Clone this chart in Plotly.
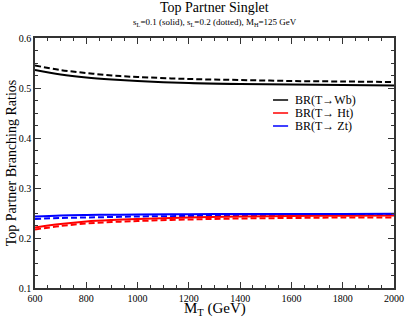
import plotly.graph_objects as go

# masses (GeV)
mt = [600, 700, 800, 900, 1000, 1200, 1400, 1600, 1800, 2000]

# sL = 0.1 (solid)
br_wb_01 = [0.536, 0.527, 0.521, 0.517, 0.514, 0.510, 0.508, 0.507, 0.506, 0.505]
br_ht_01 = [0.221, 0.228, 0.233, 0.236, 0.238, 0.241, 0.243, 0.244, 0.2445, 0.245]
br_zt_01 = [0.243, 0.245, 0.246, 0.2465, 0.247, 0.2475, 0.248, 0.248, 0.248, 0.2485]

# sL = 0.2 (dashed)
br_wb_02 = [0.545, 0.536, 0.530, 0.525, 0.522, 0.518, 0.516, 0.514, 0.513, 0.512]
br_ht_02 = [0.217, 0.224, 0.229, 0.232, 0.234, 0.237, 0.239, 0.240, 0.241, 0.241]
br_zt_02 = [0.238, 0.240, 0.241, 0.242, 0.243, 0.244, 0.245, 0.245, 0.246, 0.246]

labels = ["BR(T\u2192Wb)", "BR(T\u2192 Ht)", "BR(T\u2192 Zt)"]
colors = ["black", "#ff0000", "#0000ff"]

FONT = "Liberation Serif"

fig = go.Figure()

solid = [br_wb_01, br_ht_01, br_zt_01]
dashed = [br_wb_02, br_ht_02, br_zt_02]
for ys, col in zip(dashed, colors):
    fig.add_trace(go.Scatter(x=mt, y=ys, mode="lines", line=dict(color=col, width=2, dash="6px,3px", shape="spline"),
                             showlegend=False))
for ys, col in zip(solid, colors):
    fig.add_trace(go.Scatter(x=mt, y=ys, mode="lines", line=dict(color=col, width=2, shape="spline"),
                             showlegend=False))

# hand-made legend (short line samples like the original)
for i, (lab, col) in enumerate(zip(labels, colors)):
    yy = 0.752 - i * 0.052
    fig.add_shape(type="line", xref="paper", yref="paper", x0=0.663, x1=0.705, y0=yy, y1=yy,
                  line=dict(color=col, width=1.5))
    fig.add_annotation(x=0.72, y=yy, xref="paper", yref="paper", text=lab, showarrow=False,
                       xanchor="left", yanchor="middle", font=dict(family=FONT, size=12, color="black"))

# titles
fig.add_annotation(x=0.5, y=1.12, xref="paper", yref="paper", text="Top Partner Singlet", showarrow=False,
                   yanchor="middle", font=dict(family=FONT, size=14, color="black"))
fig.add_annotation(x=0.5, y=1.062, xref="paper", yref="paper",
                   text="s<sub>L</sub>=0.1 (solid), s<sub>L</sub>=0.2 (dotted), M<sub>H</sub>=125 GeV",
                   showarrow=False, yanchor="middle", font=dict(family=FONT, size=9, color="black"))

# axis titles placed by hand (closer to the ticks than plotly allows)
fig.add_annotation(x=0.5, y=-0.082, xref="paper", yref="paper", text="M<sub>T</sub> (GeV)", showarrow=False,
                   yanchor="middle", font=dict(family=FONT, size=15, color="black"))
fig.add_annotation(x=-0.066, y=0.5, xref="paper", yref="paper", text="Top Partner Branching Ratios",
                   showarrow=False, textangle=-90, xanchor="center", yanchor="middle",
                   font=dict(family=FONT, size=14, color="black"))

axis_common = dict(showline=True, linecolor="#333", linewidth=1.5, mirror="ticks", ticks="inside",
                   ticklen=6, tickwidth=1, tickcolor="#333", showgrid=False, zeroline=False,
                   automargin=False, tickfont=dict(family=FONT, size=10, color="black"))

fig.update_xaxes(range=[600, 2000], dtick=200, tick0=0,
                 minor=dict(dtick=50, ticks="inside", ticklen=3, tickcolor="#333", showgrid=False),
                 **axis_common)
fig.update_yaxes(range=[0.1, 0.6], dtick=0.1, tickformat=".1f",
                 minor=dict(dtick=0.025, ticks="inside", ticklen=3, tickcolor="#333", showgrid=False),
                 **axis_common)

fig.update_layout(width=406, height=320, margin=dict(l=35, r=12, t=38, b=32),
                  plot_bgcolor="white", paper_bgcolor="white", showlegend=False)

# page body has an 8px default margin; drop it so the figure sits at the window corner
fig.write_html("out.html", config={"displayModeBar": False},
               post_script="document.body.style.margin='0';")
